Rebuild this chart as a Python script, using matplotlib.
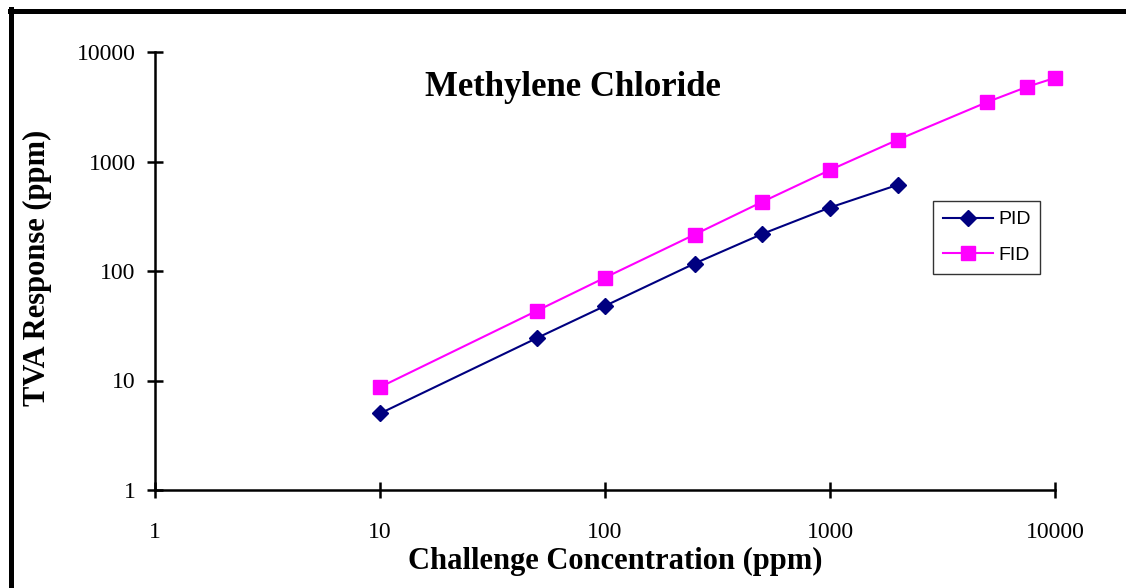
import matplotlib
matplotlib.use("Agg")
import matplotlib.pyplot as plt
from matplotlib.lines import Line2D
from matplotlib.ticker import FixedLocator, FixedFormatter, NullLocator

pid_x = [10, 50, 100, 250, 500, 1000, 2000]
pid_y = [5.0, 24.5, 48, 117, 218, 380, 612]
fid_x = [10, 50, 100, 250, 500, 1000, 2000, 5000, 7500, 10000]
fid_y = [8.7, 43.5, 87, 215, 428, 836, 1580, 3490, 4800, 5800]
ticks = [1, 10, 100, 1000, 10000]
tick_labels = ["1", "10", "100", "1000", "10000"]

W, H = 1126, 588
fig = plt.figure(figsize=(W / 100, H / 100), dpi=100)
ax = fig.add_axes([155 / W, 1 - 490 / H, 900 / W, 438 / H])

ax.plot(pid_x, pid_y, color="#000080", marker="D", markersize=8, lw=1.5,
        label="PID", clip_on=False, zorder=3)
ax.plot(fid_x, fid_y, color="#FF00FF", marker="s", markersize=10, lw=1.5,
        label="FID", clip_on=False, zorder=3)

ax.set_xscale("log")
ax.set_yscale("log")
ax.set_xlim(1, 10000)
ax.set_ylim(1, 10000)
for a in (ax.xaxis, ax.yaxis):
    a.set_major_locator(FixedLocator(ticks))
    a.set_major_formatter(FixedFormatter(tick_labels))
    a.set_minor_locator(NullLocator())
ax.spines["top"].set_visible(False)
ax.spines["right"].set_visible(False)
for s in ("left", "bottom"):
    ax.spines[s].set_linewidth(1.8)
ax.tick_params(direction="inout", length=12, width=1.8, labelsize=17)
ax.tick_params(axis="x", pad=17)
ax.tick_params(axis="y", pad=8)
for lbl in ax.get_xticklabels() + ax.get_yticklabels():
    lbl.set_fontfamily("Liberation Serif")

fig.text(615 / W, 1 - 561 / H, "Challenge Concentration (ppm)", fontfamily="Liberation Serif",
         fontweight="bold", fontsize=22, ha="center", va="center")
fig.text(37 / W, 1 - 268 / H, "TVA Response (ppm)", fontfamily="Liberation Serif",
         fontweight="bold", fontsize=22, ha="center", va="center", rotation=90)
fig.text(573 / W, 1 - 87 / H, "Methylene Chloride", fontfamily="Liberation Serif",
         fontweight="bold", fontsize=25, ha="center", va="center")

leg = ax.legend(loc="upper left", bbox_to_anchor=((933 - 155) / 900, (490 - 201) / 438),
                prop={"family": "Liberation Sans", "size": 14}, frameon=True,
                fancybox=False, edgecolor="black", borderpad=0.5, handlelength=2.6,
                labelspacing=0.93, handletextpad=0.25, borderaxespad=0)
leg.get_frame().set_linewidth(1.0)

fig.lines.append(Line2D([10 / W, 1.0], [1 - 10.5 / H, 1 - 10.5 / H],
                        transform=fig.transFigure, color="black", lw=3.6))
fig.lines.append(Line2D([11 / W, 11 / W], [0.0, 1 - 9 / H],
                        transform=fig.transFigure, color="black", lw=3.6))

fig.savefig("out.png", dpi=100)
